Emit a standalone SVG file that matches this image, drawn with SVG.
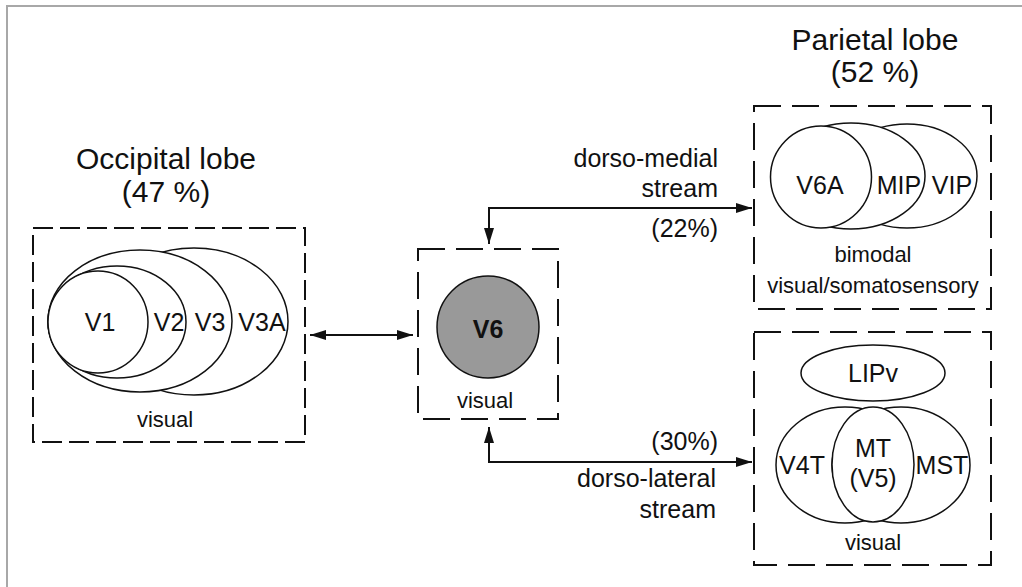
<svg xmlns="http://www.w3.org/2000/svg" width="1022" height="587" viewBox="0 0 1022 587">
<defs>
<style>
text{font-family:"Liberation Sans",Arial,sans-serif;fill:#111;}
.title{font-size:30px;text-anchor:middle;}
.lab{font-size:25px;text-anchor:middle;}
.small{font-size:22px;text-anchor:middle;}
.str{font-size:25px;text-anchor:end;}
.area{fill:#fff;stroke:#111;stroke-width:1.5;}
.box{fill:none;stroke:#111;stroke-width:2;stroke-dasharray:27 11;}
.conn{fill:none;stroke:#111;stroke-width:2;}
</style>
<marker id="ah" viewBox="0 0 16 10" refX="16" refY="5" markerWidth="16" markerHeight="10" markerUnits="userSpaceOnUse" orient="auto-start-reverse">
<path d="M0,0 L16,5 L0,10 z" fill="#111"/>
</marker>
</defs>
<rect width="1022" height="587" fill="#fff"/>
<path d="M7,587 L7,6 L1022,6" fill="none" stroke="#a8a8a8" stroke-width="2"/>

<g id="occipital">
<text class="title" x="166" y="169">Occipital lobe</text>
<text class="title" x="166" y="202">(47 %)</text>
<rect class="box" x="33" y="228" width="272" height="214" style="stroke-dasharray:20 7"/>
<ellipse class="area" cx="194" cy="321.5" rx="94" ry="73.5"/>
<ellipse class="area" cx="140" cy="321" rx="92" ry="71"/>
<ellipse class="area" cx="117" cy="322" rx="69" ry="56"/>
<ellipse class="area" cx="98" cy="322" rx="50" ry="51"/>
<text class="lab" x="100" y="331">V1</text>
<text class="lab" x="169" y="331">V2</text>
<text class="lab" x="210" y="331">V3</text>
<text class="lab" x="262" y="331">V3A</text>
<text class="small" x="165" y="427">visual</text>
</g>

<g id="v6">
<rect class="box" x="418" y="249" width="140" height="170"/>
<circle cx="488" cy="327" r="51" fill="#999" stroke="#111" stroke-width="1.5"/>
<text class="lab" x="488" y="338" font-weight="bold">V6</text>
<text class="small" x="485" y="408">visual</text>
</g>

<g id="parietal-title">
<text class="title" x="875" y="50">Parietal lobe</text>
<text class="title" x="875" y="82">(52 %)</text>
</g>

<g id="parietal-bimodal">
<rect class="box" x="754" y="106" width="237" height="203"/>
<ellipse class="area" cx="907" cy="176" rx="70" ry="52"/>
<ellipse class="area" cx="851" cy="176" rx="74" ry="53"/>
<ellipse class="area" cx="821" cy="177" rx="50.5" ry="51"/>
<text class="lab" x="820" y="194">V6A</text>
<text class="lab" x="899" y="194">MIP</text>
<text class="lab" x="952" y="194">VIP</text>
<text class="small" x="873" y="262">bimodal</text>
<text class="small" x="873" y="293">visual/somatosensory</text>
</g>

<g id="parietal-visual">
<rect class="box" x="754" y="332" width="237" height="233"/>
<ellipse class="area" cx="873" cy="373" rx="72" ry="28"/>
<text class="lab" x="873" y="382">LIPv</text>
<ellipse class="area" cx="845" cy="465" rx="69" ry="58"/>
<ellipse class="area" cx="901" cy="465" rx="69" ry="58"/>
<ellipse class="area" cx="873" cy="464.5" rx="41" ry="57.5"/>
<text class="lab" x="802" y="474">V4T</text>
<text class="lab" x="873" y="457">MT</text>
<text class="lab" x="873" y="487">(V5)</text>
<text class="lab" x="942" y="474">MST</text>
<text class="small" x="873" y="550">visual</text>
</g>

<g id="connectors">
<line class="conn" x1="310" y1="335" x2="413" y2="335" marker-start="url(#ah)" marker-end="url(#ah)"/>
<path class="conn" d="M489,244 L489,208 L752,208" marker-start="url(#ah)" marker-end="url(#ah)"/>
<path class="conn" d="M489,427 L489,462 L752,462" marker-start="url(#ah)" marker-end="url(#ah)"/>
<text class="str" x="718" y="167">dorso-medial</text>
<text class="str" x="718" y="197">stream</text>
<text class="str" x="718" y="237">(22%)</text>
<text class="str" x="718" y="450">(30%)</text>
<text class="str" x="716" y="487">dorso-lateral</text>
<text class="str" x="716" y="518">stream</text>
</g>
</svg>
